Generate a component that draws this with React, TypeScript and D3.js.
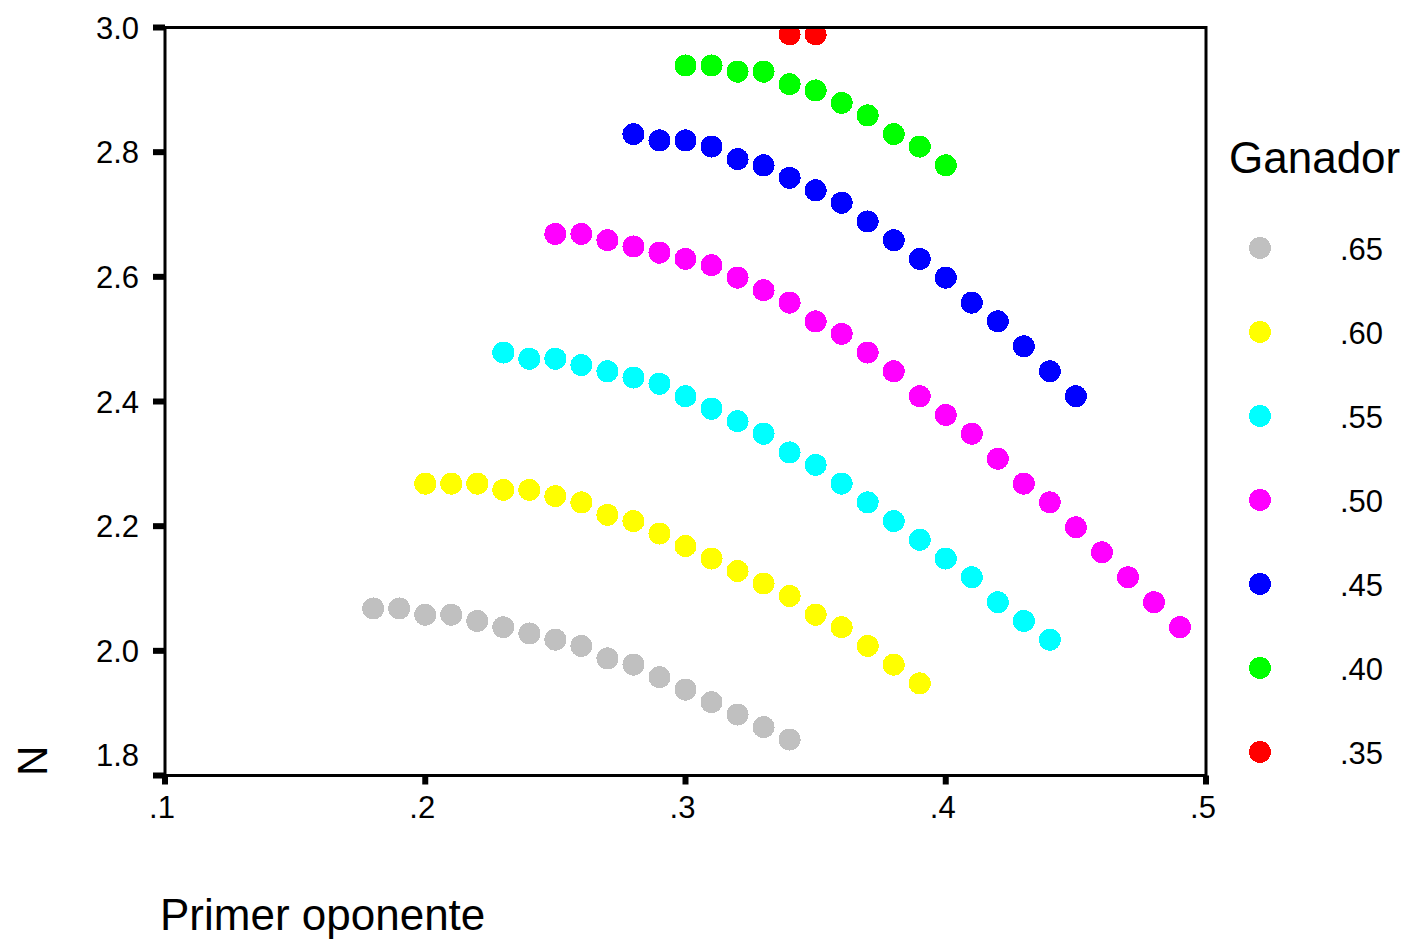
import React from "react";
import * as d3 from "d3";

// ---- Data ----
const xTicks = [0.1, 0.2, 0.3, 0.4, 0.5];
const xTickLabels = [".1", ".2", ".3", ".4", ".5"];
const yTicks = [1.8, 2.0, 2.2, 2.4, 2.6, 2.8, 3.0];
const yTickLabels = ["1.8", "2.0", "2.2", "2.4", "2.6", "2.8", "3.0"];

const legendLabels = [".65", ".60", ".55", ".50", ".45", ".40", ".35"];
const seriesColors = ["#c0c0c0", "#ffff00", "#00ffff", "#ff00ff", "#0000ff", "#00ff00", "#ff0000"];

const grayX = [0.18, 0.19, 0.2, 0.21, 0.22, 0.23, 0.24, 0.25, 0.26, 0.27, 0.28, 0.29, 0.3, 0.31, 0.32, 0.33, 0.34];
const grayN = [2.07, 2.07, 2.06, 2.06, 2.05, 2.04, 2.03, 2.02, 2.01, 1.99, 1.98, 1.96, 1.94, 1.92, 1.9, 1.88, 1.86];

const yellowX = [0.2, 0.21, 0.22, 0.23, 0.24, 0.25, 0.26, 0.27, 0.28, 0.29, 0.3, 0.31, 0.32, 0.33, 0.34, 0.35, 0.36, 0.37, 0.38, 0.39];
const yellowN = [2.27, 2.27, 2.27, 2.26, 2.26, 2.25, 2.24, 2.22, 2.21, 2.19, 2.17, 2.15, 2.13, 2.11, 2.09, 2.06, 2.04, 2.01, 1.98, 1.95];

const cyanX = [0.23, 0.24, 0.25, 0.26, 0.27, 0.28, 0.29, 0.3, 0.31, 0.32, 0.33, 0.34, 0.35, 0.36, 0.37, 0.38, 0.39, 0.4, 0.41, 0.42, 0.43, 0.44];
const cyanN = [2.48, 2.47, 2.47, 2.46, 2.45, 2.44, 2.43, 2.41, 2.39, 2.37, 2.35, 2.32, 2.3, 2.27, 2.24, 2.21, 2.18, 2.15, 2.12, 2.08, 2.05, 2.02];

const magentaX = [0.25, 0.26, 0.27, 0.28, 0.29, 0.3, 0.31, 0.32, 0.33, 0.34, 0.35, 0.36, 0.37, 0.38, 0.39, 0.4, 0.41, 0.42, 0.43, 0.44, 0.45, 0.46, 0.47, 0.48, 0.49];
const magentaN = [2.67, 2.67, 2.66, 2.65, 2.64, 2.63, 2.62, 2.6, 2.58, 2.56, 2.53, 2.51, 2.48, 2.45, 2.41, 2.38, 2.35, 2.31, 2.27, 2.24, 2.2, 2.16, 2.12, 2.08, 2.04];

const blueX = [0.28, 0.29, 0.3, 0.31, 0.32, 0.33, 0.34, 0.35, 0.36, 0.37, 0.38, 0.39, 0.4, 0.41, 0.42, 0.43, 0.44, 0.45];
const blueN = [2.83, 2.82, 2.82, 2.81, 2.79, 2.78, 2.76, 2.74, 2.72, 2.69, 2.66, 2.63, 2.6, 2.56, 2.53, 2.49, 2.45, 2.41];

const greenX = [0.3, 0.31, 0.32, 0.33, 0.34, 0.35, 0.36, 0.37, 0.38, 0.39, 0.4];
const greenN = [2.94, 2.94, 2.93, 2.93, 2.91, 2.9, 2.88, 2.86, 2.83, 2.81, 2.78];

const redX = [0.34, 0.35];
const redN = [2.99, 2.99];

const seriesX = [grayX, yellowX, cyanX, magentaX, blueX, greenX, redX];
const seriesN = [grayN, yellowN, cyanN, magentaN, blueN, greenN, redN];

const FONT = "'Liberation Sans', Arial, sans-serif";

export default function App() {
  const W = 1415;
  const H = 941;
  const left = 165;
  const right = 1206;
  const top = 27.5;
  const bottom = 775.5;

  const x = d3.scaleLinear().domain([0.1, 0.5]).range([left, right]);
  const y = d3.scaleLinear().domain([1.8, 3.0]).range([bottom + 1.5, top + 0.5]);

  const legendY = d3.scalePoint<string>().domain(legendLabels).range([248, 752]);

  return (
    <svg
      width={W}
      height={H}
      style={{ position: "absolute", left: 0, top: 0, background: "#fff" }}
      fontFamily={FONT}
    >
      <defs>
        <clipPath id="plotClip">
          <rect x={left} y={top} width={right - left} height={bottom - top} />
        </clipPath>
      </defs>
      <rect x={0} y={0} width={W} height={H} fill="#fff" />

      {/* points */}
      <g clipPath="url(#plotClip)">
        {seriesX.map((xs, si) =>
          xs.map((xv, i) => (
            <circle
              key={`${si}-${i}`}
              cx={x(xv)}
              cy={y(seriesN[si][i])}
              r={11}
              fill={seriesColors[si]}
              shapeRendering="crispEdges"
            />
          ))
        )}
      </g>

      {/* frame */}
      <rect
        x={left}
        y={top}
        width={right - left}
        height={bottom - top}
        fill="none"
        stroke="#000"
        strokeWidth={3}
      />

      {/* y ticks */}
      {yTicks.map((t, i) => {
        const ty = top + ((3.0 - t) / 1.2) * (bottom - top);
        return (
          <g key={`yt${i}`}>
            <line x1={left - 12} x2={left} y1={ty} y2={ty} stroke="#000" strokeWidth={6} />
            <text
              x={139}
              y={ty + (i === 0 ? -10 : 11)}
              textAnchor="end"
              fontSize={31}
              fill="#000"
            >
              {yTickLabels[i]}
            </text>
          </g>
        );
      })}

      {/* x ticks */}
      {xTicks.map((t, i) => (
        <g key={`xt${i}`}>
          <line x1={x(t)} x2={x(t)} y1={bottom} y2={bottom + 9} stroke="#000" strokeWidth={6} />
          <text x={x(t) - 3} y={818} textAnchor="middle" fontSize={31} fill="#000">
            {xTickLabels[i]}
          </text>
        </g>
      ))}

      {/* axis titles */}
      <text
        transform={`translate(47,776) rotate(-90)`}
        fontSize={42}
        fill="#000"
        textAnchor="start"
      >
        N
      </text>
      <text x={160} y={930} fontSize={44} fill="#000">
        Primer oponente
      </text>

      {/* legend */}
      <text x={1229} y={173} fontSize={44} fill="#000">
        Ganador
      </text>
      {legendLabels.map((lab, i) => (
        <g key={`lg${i}`}>
          <circle
            cx={1260}
            cy={legendY(lab)}
            r={11}
            fill={seriesColors[i]}
            shapeRendering="crispEdges"
          />
          <text x={1340} y={(legendY(lab) as number) + 12} fontSize={31} fill="#000">
            {lab}
          </text>
        </g>
      ))}
    </svg>
  );
}
